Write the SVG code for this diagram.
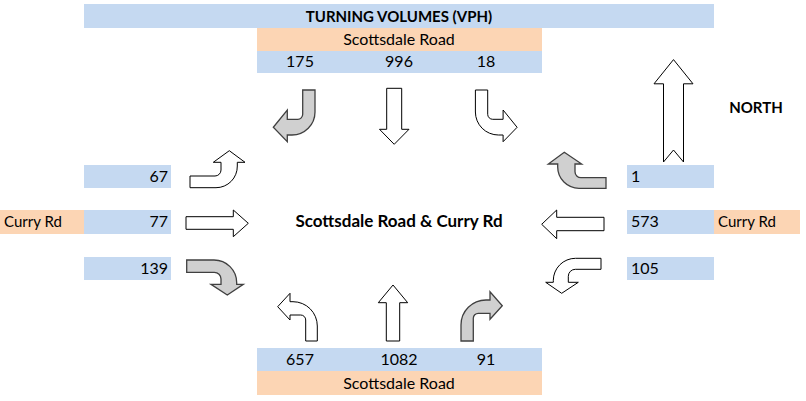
<svg xmlns="http://www.w3.org/2000/svg" width="806" height="401" viewBox="0 0 806 401">
<style>
.blue{fill:#c5d9f1}
.orange{fill:#fcd5b4}
text{font-family:Lato,"Open Sans","Liberation Sans",sans-serif;font-size:16px;fill:#000}
.b{font-weight:bold;font-size:15px}
.c{font-weight:bold;font-size:17px}
.s{font-size:15px}
.m{text-anchor:middle}
.e{text-anchor:end}
.w{fill:#fff;stroke:#000;stroke-width:1}
.g{fill:#d0d0d0;stroke:#404040;stroke-width:1.3}
</style>
<rect width="806" height="401" fill="#fff"/>
<g id="title">
<rect class="blue" x="84" y="4" width="630" height="24"/>
<text class="b m" x="399" y="22">TURNING VOLUMES (VPH)</text>
</g>
<g id="north-approach">
<rect class="orange" x="257" y="28" width="285" height="23"/>
<text class="m" x="399" y="45">Scottsdale Road</text>
<rect class="blue" x="257" y="51" width="285" height="22"/>
<text class="m" x="300" y="67">175</text>
<text class="m" x="399" y="67">996</text>
<text class="m" x="486" y="67">18</text>
</g>
<g id="south-approach">
<rect class="blue" x="257" y="348" width="285" height="23"/>
<text class="m" x="300" y="365">657</text>
<text class="m" x="399" y="365">1082</text>
<text class="m" x="486" y="365">91</text>
<rect class="orange" x="257" y="371" width="285" height="24"/>
<text class="m" x="399" y="389">Scottsdale Road</text>
</g>
<g id="west-approach">
<rect class="blue" x="84" y="165" width="87" height="23"/>
<text class="e" x="168" y="182">67</text>
<rect class="orange" x="0" y="210" width="84" height="24"/>
<text class="s" x="4" y="227">Curry Rd</text>
<rect class="blue" x="84" y="210" width="87" height="24"/>
<text class="e" x="168" y="227">77</text>
<rect class="blue" x="84" y="257" width="87" height="23"/>
<text class="e" x="168" y="274">139</text>
</g>
<g id="east-approach">
<rect class="blue" x="627" y="165" width="87" height="23"/>
<text x="631" y="182">1</text>
<rect class="blue" x="627" y="210" width="87" height="24"/>
<text x="631" y="227">573</text>
<rect class="orange" x="714" y="210" width="86" height="24"/>
<text class="s" x="718" y="227">Curry Rd</text>
<rect class="blue" x="627" y="257" width="87" height="23"/>
<text x="631" y="274">105</text>
</g>
<g id="intersection">
<text class="c m" x="399" y="227">Scottsdale Road &amp; Curry Rd</text>
</g>
<g id="north-indicator">
<path class="w" d="M673.5,59.6 L693,83.8 L683.5,83.8 L683.5,162 L673.5,150 L663.5,162 L663.5,83.8 L654,83.8 Z"/>
<text class="b m" x="756" y="113">NORTH</text>
</g>
<g id="connectors">
<path id="sb-right" class="g" d="M302.7,90 L315,90 L315,112 A23,23 0 0 1 292,135 L287.3,135 L287.3,141.7 L273.3,127.3 L287.3,110 L287.3,119.3 L297.7,119.3 A5,5 0 0 0 302.7,114.3 Z"/>
<path id="sb-thru" class="w" d="M386.7,88.3 L401.7,88.3 L401.7,129.3 L409,129.3 L394.2,144.3 L379.5,129.3 L386.7,129.3 Z"/>
<path id="sb-left" class="w" d="M487.7,90 L475.4,90 L475.4,112 A23,23 0 0 0 498.4,135 L503.1,135 L503.1,141.7 L517.1,127.3 L503.1,110 L503.1,119.3 L492.7,119.3 A5,5 0 0 1 487.7,114.3 Z"/>
<path id="eb-left" class="w" d="M190,176 L215,176 A6,6 0 0 0 221,170 L221,162.3 L213.3,162.3 L229.3,150.7 L245,162.3 L237.3,162.3 L237.3,166 A21.3,21.3 0 0 1 216,187.7 L190,187.7 Z"/>
<path id="eb-thru" class="w" d="M186,216.7 L233.3,216.7 L233.3,210 L248.3,223.3 L233.3,236.7 L233.3,229.3 L186,229.3 Z"/>
<path id="eb-right" class="g" d="M186.7,260 L214,260 A22.7,22.7 0 0 1 236.7,282.7 L236.7,284.3 L243.3,284.3 L227.3,295 L211,284.3 L221,284.3 L221,279 A6.7,6.7 0 0 0 214.3,272.3 L186.7,272.3 Z"/>
<path id="wb-right" class="g" d="M606,177.7 L581,177.7 A6,6 0 0 1 575,171.7 L575,164 L581.7,164 L564.3,152.3 L548.3,164 L557.7,164 L557.7,167 A21.3,21.3 0 0 0 579,188.3 L606,188.3 Z"/>
<path id="wb-thru" class="w" d="M604,217.3 L556.7,217.3 L556.7,210 L541.7,224.3 L556.7,238.7 L556.7,230.7 L604,230.7 Z"/>
<path id="wb-left" class="w" d="M601,258.3 L575.5,258.3 A22.2,22.2 0 0 0 553.3,280.5 L553.3,282.3 L545.7,282.3 L561.7,293.3 L578.3,282.3 L568.3,282.3 L568.3,276.3 A7,7 0 0 1 575.3,269.3 L601,269.3 Z"/>
<path id="nb-left" class="w" d="M317.3,341 L305.7,341 L305.7,320 A5,5 0 0 0 300.7,315 L290,315 L290,320 L277.7,306.7 L290,293.3 L290,301.7 L293,301.7 A24.3,24.3 0 0 1 317.3,326 Z"/>
<path id="nb-thru" class="w" d="M386.3,341 L399.7,341 L399.7,302.7 L407.7,302.7 L393,285 L378.3,302.7 L386.3,302.7 Z"/>
<path id="nb-right" class="g" d="M461,341 L473.3,341 L473.3,318.3 A5,5 0 0 1 478.3,313.3 L490,313.3 L490,319.3 L502.3,305.7 L490,291.7 L490,300 L486,300 A25,25 0 0 0 461,325 Z"/>
</g>
</svg>
